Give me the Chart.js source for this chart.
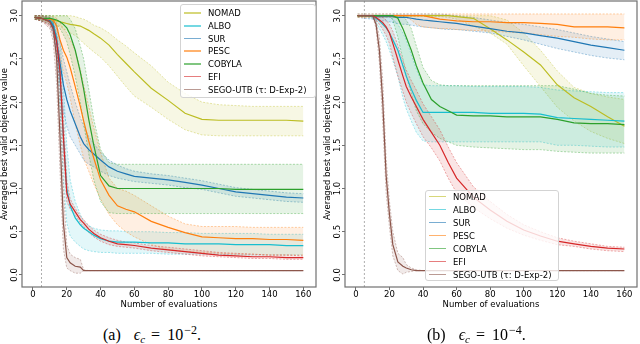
<!DOCTYPE html>
<html>
<head>
<meta charset="utf-8">
<script src="https://cdn.jsdelivr.net/npm/chart.js@4.4.0/dist/chart.umd.min.js"></script>
<style>
  body { margin: 0; width: 640px; height: 344px; background: #fff; position: relative; overflow: hidden; font-family: "DejaVu Sans"; }
  .wrap { position: absolute; top: 0; }
  .lg { position: absolute; background: rgba(255,255,255,0.8); border: 1px solid #d3d3d3; border-radius: 3px; font-size: 8.5px; color: #000; }
  .lg .row { position: absolute; left: 0; height: 12px; line-height: 12px; white-space: nowrap; }
  .lg .ln { position: absolute; top: 5px; height: 1.5px; }
  .lg .tx { position: absolute; top: 0; }
  .cap { position: absolute; white-space: nowrap; font-family: "Liberation Serif"; font-size: 16px; line-height: 16px; height: 16px; color: #000; }
  .cap sub { font-size: 11px; line-height: 0; vertical-align: -3px; font-style: italic; }
  .cap sup { font-size: 12px; line-height: 0; vertical-align: 6px; margin-left: 1px; }
  .cap .sym { margin-left: 13px; }
  .cap .eq { margin: 0 7px 0 6px; }
</style>
</head>
<body>
<div class="wrap" style="left:0;width:320px;height:310px"><canvas id="chartA" width="320" height="310"></canvas></div>
<div class="wrap" style="left:322px;width:318px;height:310px"><canvas id="chartB" width="318" height="310"></canvas></div>
<div class="lg" id="legendA" style="left:180px;top:4px;width:134px;height:92px"></div>
<div class="lg" id="legendB" style="left:425px;top:190px;width:132px;height:89px"></div>
<div class="cap" style="left:103px;top:327px">(a)<span class="sym"><i>ϵ</i><sub>c</sub></span><span class="eq">=</span>10<sup>−2</sup>.</div>
<div class="cap" style="left:427px;top:327px">(b)<span class="sym"><i>ϵ</i><sub>c</sub></span><span class="eq">=</span>10<sup>−4</sup>.</div>
<script>
// 評価回数（共通のx座標）
const evals = [1,5,10,12,14,16,18,20,22,25,28,30,33,36,40,45,50,55,60,70,80,90,100,110,120,130,140,150,160];
const xTicks = [0,20,40,60,80,100,120,140,160];
const yTicks = [0,0.5,1,1.5,2,2.5,3];
const startEvals = 5; // 初期サンプル数（縦の点線）
const yTitle = 'Averaged best valid objective value';

const names = ['NOMAD','ALBO','SUR','PESC','COBYLA','EFI','SEGO-UTB (τ: D-Exp-2)'];
const colors = ['188,189,34','23,190,207','31,119,180','255,127,14','44,160,44','214,39,40','140,86,75'];

// (a) eps = 1e-2
const aNomadMean = [2.98,2.97,2.95,2.95,2.94,2.93,2.92,2.91,2.90,2.89,2.88,2.86,2.83,2.79,2.74,2.66,2.55,2.45,2.35,2.16,2.02,1.87,1.80,1.79,1.79,1.79,1.79,1.79,1.78];
const aNomadUp   = [3.00,3.00,3.00,3.00,3.00,3.00,3.00,3.00,3.00,2.99,2.97,2.96,2.93,2.89,2.86,2.80,2.72,2.65,2.57,2.42,2.23,2.10,2.00,1.97,1.96,1.95,1.95,1.95,1.95];
const aNomadLo   = [2.96,2.95,2.92,2.92,2.90,2.88,2.85,2.83,2.80,2.77,2.72,2.68,2.63,2.58,2.52,2.42,2.30,2.18,2.07,1.94,1.80,1.68,1.62,1.61,1.61,1.61,1.61,1.61,1.61];
const aAlboMean  = [2.98,2.97,2.95,2.90,2.75,2.30,1.60,1.00,0.80,0.66,0.58,0.54,0.50,0.46,0.42,0.39,0.38,0.38,0.38,0.37,0.37,0.36,0.36,0.36,0.35,0.35,0.35,0.34,0.34];
const aAlboUp    = [3.00,3.00,3.00,2.98,2.92,2.70,2.20,1.50,1.10,0.85,0.70,0.62,0.57,0.54,0.52,0.51,0.51,0.50,0.50,0.50,0.49,0.49,0.48,0.48,0.48,0.48,0.47,0.47,0.47];
const aAlboLo    = [2.96,2.94,2.90,2.80,2.55,1.90,1.10,0.60,0.45,0.38,0.33,0.30,0.28,0.27,0.26,0.26,0.25,0.25,0.25,0.25,0.24,0.24,0.24,0.24,0.23,0.23,0.23,0.23,0.23];
const aSurMean   = [2.98,2.97,2.94,2.88,2.70,2.45,2.20,2.03,1.90,1.75,1.60,1.52,1.45,1.40,1.33,1.25,1.20,1.17,1.14,1.12,1.10,1.07,1.04,1.00,0.96,0.94,0.92,0.90,0.89];
const aSurUp     = [3.00,3.00,2.98,2.95,2.85,2.70,2.50,2.35,2.20,2.00,1.82,1.72,1.60,1.52,1.42,1.33,1.27,1.23,1.20,1.17,1.15,1.12,1.09,1.05,1.01,0.99,0.97,0.95,0.94];
const aSurLo     = [2.96,2.94,2.90,2.80,2.55,2.20,1.90,1.72,1.60,1.50,1.40,1.33,1.28,1.25,1.20,1.15,1.12,1.10,1.08,1.06,1.04,1.01,0.99,0.95,0.91,0.89,0.87,0.85,0.84];
const aPescMean  = [2.98,2.97,2.96,2.95,2.88,2.72,2.60,2.52,2.40,2.18,1.95,1.78,1.55,1.35,1.10,0.92,0.80,0.76,0.73,0.62,0.55,0.49,0.44,0.43,0.42,0.42,0.41,0.41,0.40];
const aPescUp    = [3.00,3.00,3.00,2.99,2.97,2.92,2.85,2.80,2.72,2.60,2.38,2.20,1.95,1.70,1.42,1.12,1.00,0.97,0.92,0.80,0.68,0.59,0.56,0.56,0.56,0.55,0.55,0.55,0.55];
const aPescLo    = [2.96,2.94,2.90,2.85,2.70,2.50,2.35,2.22,2.05,1.75,1.50,1.35,1.20,1.05,0.88,0.70,0.58,0.50,0.44,0.35,0.29,0.27,0.26,0.25,0.24,0.24,0.23,0.23,0.23];
const aCobMean   = [2.98,2.97,2.97,2.96,2.95,2.93,2.90,2.86,2.78,2.60,2.35,2.15,1.80,1.50,1.15,1.03,1.00,1.00,1.00,1.00,1.00,1.00,1.00,1.00,0.99,0.99,0.99,0.99,0.99];
const aCobUp     = [3.00,3.00,3.00,3.00,3.00,3.00,3.00,3.00,2.96,2.85,2.65,2.50,2.15,1.80,1.45,1.30,1.28,1.28,1.28,1.28,1.28,1.28,1.28,1.28,1.28,1.28,1.28,1.28,1.28];
const aCobLo     = [2.96,2.95,2.94,2.93,2.90,2.85,2.78,2.70,2.55,2.30,2.00,1.75,1.40,1.10,0.85,0.72,0.71,0.71,0.71,0.71,0.71,0.71,0.71,0.71,0.71,0.71,0.71,0.71,0.71];
const aEfiMean   = [2.98,2.97,2.93,2.85,2.70,2.35,1.60,0.95,0.82,0.73,0.64,0.60,0.53,0.48,0.43,0.39,0.36,0.35,0.34,0.31,0.29,0.27,0.25,0.23,0.22,0.21,0.21,0.20,0.20];
const aEfiUp     = [3.00,3.00,2.96,2.92,2.80,2.50,1.85,1.10,0.88,0.77,0.68,0.64,0.57,0.52,0.47,0.43,0.40,0.38,0.37,0.34,0.32,0.30,0.28,0.26,0.25,0.24,0.23,0.23,0.22];
const aEfiLo     = [2.96,2.94,2.88,2.78,2.58,2.20,1.40,0.85,0.76,0.69,0.60,0.56,0.49,0.44,0.39,0.35,0.33,0.32,0.31,0.28,0.26,0.24,0.22,0.21,0.20,0.19,0.19,0.18,0.18];
const aSegoMean  = [2.98,2.97,2.93,2.85,2.50,1.60,0.60,0.20,0.14,0.10,0.09,0.05,0.05,0.05,0.05,0.05,0.05,0.05,0.05,0.05,0.05,0.05,0.05,0.05,0.05,0.05,0.05,0.05,0.05];
const aSegoUp    = [3.00,3.00,2.98,2.93,2.70,2.00,1.00,0.35,0.24,0.20,0.18,0.06,0.05,0.05,0.05,0.05,0.05,0.05,0.05,0.05,0.05,0.05,0.05,0.05,0.05,0.05,0.05,0.05,0.05];
const aSegoLo    = [2.96,2.94,2.85,2.70,2.20,1.20,0.30,0.08,0.05,0.02,0.02,0.05,0.05,0.05,0.05,0.05,0.05,0.05,0.05,0.05,0.05,0.05,0.05,0.05,0.05,0.05,0.05,0.05,0.05];

// (b) eps = 1e-4
const bNomadMean = [3.00,3.00,3.00,3.00,3.00,3.00,3.00,3.00,3.00,3.00,3.00,3.00,3.00,3.00,3.00,3.00,3.00,3.00,2.99,2.97,2.85,2.72,2.58,2.43,2.20,2.05,1.95,1.83,1.72];
const bNomadUp   = [3.00,3.00,3.00,3.00,3.00,3.00,3.00,3.00,3.00,3.00,3.00,3.00,3.00,3.00,3.00,3.00,3.00,3.00,3.00,3.00,3.00,2.95,2.80,2.60,2.36,2.17,2.10,2.06,2.03];
const bNomadLo   = [2.99,2.99,2.99,2.99,2.99,2.99,2.99,2.99,2.99,2.99,2.99,2.99,2.99,2.99,2.99,2.99,2.99,2.98,2.96,2.88,2.80,2.67,2.42,2.18,1.94,1.78,1.66,1.58,1.52];
const bAlboMean  = [3.00,3.00,2.99,2.97,2.94,2.90,2.86,2.80,2.72,2.60,2.42,2.30,2.15,2.02,1.88,1.88,1.88,1.88,1.88,1.88,1.87,1.87,1.87,1.86,1.82,1.81,1.80,1.79,1.78];
const bAlboUp    = [3.00,3.00,3.00,3.00,3.00,3.00,3.00,3.00,2.96,2.90,2.80,2.72,2.55,2.38,2.20,2.19,2.19,2.19,2.19,2.18,2.18,2.18,2.18,2.17,2.14,2.13,2.12,2.11,2.11];
const bAlboLo    = [3.00,3.00,2.97,2.92,2.85,2.78,2.70,2.60,2.48,2.30,2.05,1.92,1.78,1.65,1.55,1.54,1.54,1.54,1.54,1.54,1.54,1.54,1.54,1.54,1.50,1.50,1.49,1.48,1.48];
const bSurMean   = [3.00,3.00,3.00,2.99,2.99,2.99,2.99,2.99,2.99,2.98,2.98,2.98,2.97,2.96,2.95,2.94,2.93,2.92,2.91,2.88,2.85,2.82,2.80,2.77,2.74,2.70,2.66,2.63,2.60];
const bSurUp     = [3.02,3.02,3.02,3.02,3.02,3.02,3.02,3.02,3.02,3.02,3.02,3.02,3.02,3.02,3.02,3.02,3.02,3.01,3.00,2.98,2.95,2.92,2.90,2.87,2.84,2.80,2.76,2.73,2.70];
const bSurLo     = [2.98,2.97,2.96,2.95,2.95,2.94,2.94,2.93,2.92,2.91,2.90,2.90,2.89,2.88,2.87,2.86,2.85,2.84,2.84,2.82,2.80,2.76,2.72,2.67,2.62,2.58,2.54,2.51,2.49];
const bPescMean  = [3.00,3.00,3.00,3.00,3.00,3.00,3.00,3.00,3.00,3.00,3.00,3.00,3.00,3.00,3.00,2.98,2.96,2.95,2.94,2.93,2.93,2.92,2.92,2.91,2.90,2.87,2.87,2.87,2.86];
const bPescUp    = [3.02,3.02,3.02,3.02,3.02,3.02,3.02,3.02,3.02,3.02,3.02,3.02,3.02,3.02,3.02,3.02,3.02,3.02,3.02,3.02,3.02,3.02,3.02,3.02,3.02,3.02,3.02,3.02,3.02];
const bPescLo    = [2.98,2.98,2.98,2.98,2.98,2.98,2.98,2.98,2.98,2.98,2.98,2.98,2.95,2.90,2.87,2.86,2.85,2.85,2.84,2.83,2.82,2.81,2.80,2.78,2.76,2.75,2.73,2.72,2.72];
const bCobMean   = [3.00,3.00,3.00,3.00,3.00,3.00,3.00,3.00,3.00,2.97,2.85,2.75,2.60,2.42,2.22,2.03,1.95,1.90,1.85,1.84,1.84,1.83,1.83,1.83,1.80,1.76,1.75,1.75,1.74];
const bCobUp     = [3.00,3.00,3.00,3.00,3.00,3.00,3.00,3.00,3.00,3.00,3.00,2.95,2.85,2.65,2.40,2.25,2.20,2.19,2.19,2.19,2.19,2.19,2.19,2.19,2.19,2.15,2.10,2.08,2.07];
const bCobLo     = [3.00,3.00,3.00,3.00,3.00,3.00,3.00,3.00,2.95,2.75,2.50,2.30,2.10,1.90,1.75,1.65,1.58,1.54,1.50,1.48,1.47,1.46,1.45,1.45,1.43,1.42,1.41,1.41,1.41];
const bEfiMean   = [3.00,3.00,3.00,2.98,2.95,2.92,2.87,2.80,2.68,2.49,2.30,2.18,2.06,1.95,1.80,1.65,1.50,1.30,1.12,0.90,0.75,0.62,0.52,0.45,0.39,0.36,0.33,0.31,0.30];
const bEfiUp     = [3.00,3.00,3.00,3.00,3.00,2.98,2.95,2.90,2.82,2.66,2.48,2.37,2.25,2.14,1.98,1.83,1.68,1.48,1.30,1.02,0.85,0.70,0.58,0.50,0.43,0.39,0.36,0.33,0.32];
const bEfiLo     = [3.00,3.00,3.00,2.95,2.90,2.84,2.77,2.68,2.52,2.30,2.12,2.00,1.87,1.75,1.60,1.47,1.32,1.12,0.95,0.78,0.65,0.54,0.46,0.40,0.35,0.33,0.30,0.28,0.27];
const bSegoMean  = [3.00,3.00,3.00,2.90,2.60,2.00,1.15,0.70,0.35,0.15,0.10,0.08,0.06,0.05,0.05,0.05,0.05,0.05,0.05,0.05,0.05,0.05,0.05,0.05,0.05,0.05,0.05,0.05,0.05];
const bSegoUp    = [3.00,3.00,3.00,2.95,2.75,2.25,1.35,0.85,0.50,0.25,0.20,0.12,0.08,0.06,0.05,0.05,0.05,0.05,0.05,0.05,0.05,0.05,0.05,0.05,0.05,0.05,0.05,0.05,0.05];
const bSegoLo    = [3.00,3.00,3.00,2.85,2.45,1.75,0.95,0.55,0.22,0.05,0.01,0.03,0.04,0.05,0.05,0.05,0.05,0.05,0.05,0.05,0.05,0.05,0.05,0.05,0.05,0.05,0.05,0.05,0.05];

const seriesA = [
  [aNomadMean, aNomadUp, aNomadLo], [aAlboMean, aAlboUp, aAlboLo], [aSurMean, aSurUp, aSurLo],
  [aPescMean, aPescUp, aPescLo], [aCobMean, aCobUp, aCobLo], [aEfiMean, aEfiUp, aEfiLo],
  [aSegoMean, aSegoUp, aSegoLo]
];
const seriesB = [
  [bNomadMean, bNomadUp, bNomadLo], [bAlboMean, bAlboUp, bAlboLo], [bSurMean, bSurUp, bSurLo],
  [bPescMean, bPescUp, bPescLo], [bCobMean, bCobUp, bCobLo], [bEfiMean, bEfiUp, bEfiLo],
  [bSegoMean, bSegoUp, bSegoLo]
];

const FONT = 'DejaVu Sans';
const FONT_SIZE = 8.5;
Chart.defaults.font.family = FONT;
Chart.defaults.font.size = FONT_SIZE;
Chart.defaults.color = '#000';

function toPoints(values) {
  return evals.map((x, k) => ({ x: x, y: values[k] }));
}

// 平均線＋上下の点線＋塗りつぶし
function buildDatasets(series) {
  const sets = [];
  series.forEach(([mean, up, lo], i) => {
    const rgb = colors[i];
    sets.push({
      data: toPoints(up), borderColor: `rgba(${rgb},0.55)`, borderWidth: 0.7,
      borderDash: [2, 1.5], fill: false, order: 30 - i
    });
    sets.push({
      data: toPoints(lo), borderColor: `rgba(${rgb},0.55)`, borderWidth: 0.7,
      borderDash: [2, 1.5], fill: '-1', backgroundColor: `rgba(${rgb},0.12)`, order: 30 - i
    });
    sets.push({
      data: toPoints(mean), borderColor: `rgb(${rgb})`, borderWidth: 1.2, fill: false, order: 10 - i
    });
  });
  return sets;
}

// 枠線・縦点線・回転したy目盛りラベルとyタイトル
const framePlugin = {
  id: 'frame',
  beforeDatasetsDraw(chart) {
    const { ctx, chartArea: a, scales: { x } } = chart;
    const px = x.getPixelForValue(startEvals);
    ctx.save();
    ctx.strokeStyle = '#9a9a9a';
    ctx.lineWidth = 0.8;
    ctx.setLineDash([2, 2]);
    ctx.beginPath();
    ctx.moveTo(px, a.top);
    ctx.lineTo(px, a.bottom);
    ctx.stroke();
    ctx.restore();
  },
  afterDraw(chart) {
    const { ctx, chartArea: a, scales: { y } } = chart;
    ctx.save();
    ctx.strokeStyle = '#707070';
    ctx.lineWidth = 1.2;
    ctx.strokeRect(a.left, a.top, a.right - a.left, a.bottom - a.top);
    ctx.fillStyle = '#000';
    ctx.textAlign = 'center';
    ctx.textBaseline = 'middle';
    ctx.font = FONT_SIZE + 'px "' + FONT + '"';
    yTicks.forEach(v => {
      ctx.save();
      ctx.translate(a.left - 7, y.getPixelForValue(v));
      ctx.rotate(-Math.PI / 2);
      ctx.fillText(v.toFixed(1), 0, 0);
      ctx.restore();
    });
    ctx.save();
    ctx.translate(a.left - 17, (a.top + a.bottom) / 2);
    ctx.rotate(-Math.PI / 2);
    ctx.fillText(yTitle, 0, 0);
    ctx.restore();
    ctx.restore();
  }
};

function makeChart(id, series, yWidth, padRight) {
  const ctx = document.getElementById(id).getContext('2d');
  return new Chart(ctx, {
    type: 'line',
    data: { datasets: buildDatasets(series) },
    options: {
      responsive: false,
      animation: false,
      layout: { padding: { top: 1, right: padRight, left: 0, bottom: 0 } },
      plugins: { legend: { display: false }, tooltip: { enabled: false } },
      elements: { point: { radius: 0 }, line: { tension: 0 } },
      scales: {
        x: {
          type: 'linear', min: -6.5, max: 167.5,
          afterBuildTicks: s => { s.ticks = xTicks.map(v => ({ value: v })); },
          afterFit: s => { s.height = 23; },
          border: { display: false },
          grid: { display: true, drawOnChartArea: false, drawTicks: true, tickLength: 3, color: '#707070' },
          ticks: { padding: 0, maxRotation: 0, color: '#000' },
          title: { display: true, text: 'Number of evaluations', padding: 0, color: '#000' }
        },
        y: {
          type: 'linear', min: -0.14, max: 3.17,
          afterBuildTicks: s => { s.ticks = yTicks.map(v => ({ value: v })); },
          afterFit: s => { s.width = yWidth; },
          border: { display: false },
          grid: { display: true, drawOnChartArea: false, drawTicks: true, tickLength: 3, color: '#707070' },
          ticks: { display: false },
          title: { display: false }
        }
      }
    },
    plugins: [framePlugin]
  });
}

makeChart('chartA', seriesA, 22, 4);
makeChart('chartB', seriesB, 23, 3);

// 凡例（HTML）
function buildLegend(id, rowTop, rowStep) {
  const box = document.getElementById(id);
  names.forEach((name, i) => {
    const row = document.createElement('div');
    row.className = 'row';
    row.style.top = (rowTop + i * rowStep) + 'px';
    row.innerHTML = `<span class="ln" style="left:3px;width:17px;background:rgba(${colors[i]},0.6)"></span>` +
      `<span class="tx" style="left:27px">${name}</span>`;
    box.appendChild(row);
  });
}
buildLegend('legendA', 2.3, 12.7);
buildLegend('legendB', -0.3, 13);
</script>
</body>
</html>
